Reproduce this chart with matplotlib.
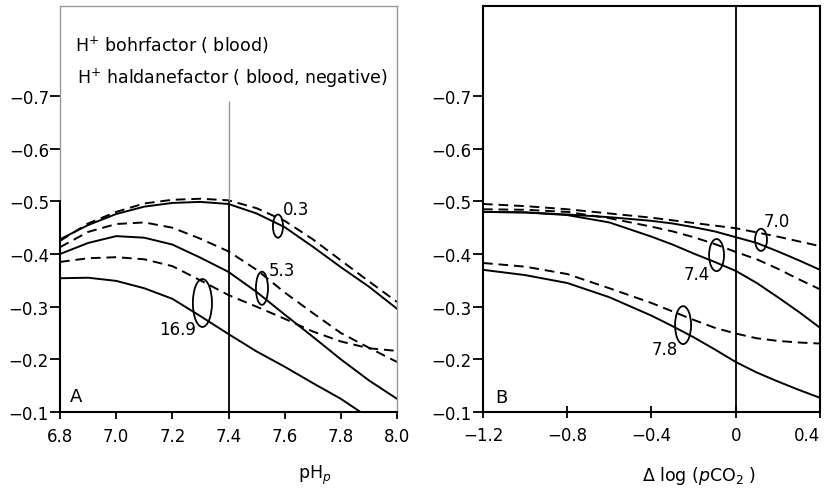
import matplotlib.pyplot as plt
from matplotlib.patches import Ellipse

# --- Data ---

# Panel A: factor vs plasma pH, one solid/dashed pair per pCO2 label
ph_a = [6.8, 6.9, 7.0, 7.1, 7.2, 7.3, 7.4, 7.5, 7.6, 7.7, 7.8, 7.9, 8.0]
ph_a_169 = [6.8, 6.9, 7.0, 7.1, 7.2, 7.3, 7.4, 7.5, 7.6, 7.7, 7.8, 7.87]
bohr_03 = [-0.428, -0.455, -0.476, -0.490, -0.497, -0.499, -0.495, -0.477, -0.451, -0.414, -0.375, -0.338, -0.296]
halda_03 = [-0.425, -0.458, -0.480, -0.496, -0.503, -0.505, -0.502, -0.487, -0.463, -0.428, -0.388, -0.348, -0.309]
bohr_53 = [-0.400, -0.421, -0.434, -0.431, -0.418, -0.393, -0.366, -0.328, -0.285, -0.243, -0.200, -0.160, -0.125]
halda_53 = [-0.413, -0.442, -0.457, -0.460, -0.450, -0.429, -0.405, -0.370, -0.327, -0.288, -0.250, -0.222, -0.195]
bohr_169 = [-0.354, -0.355, -0.349, -0.335, -0.315, -0.282, -0.248, -0.215, -0.186, -0.155, -0.125, -0.100]
halda_169 = [-0.385, -0.392, -0.394, -0.390, -0.377, -0.350, -0.322, -0.300, -0.277, -0.253, -0.234, -0.221, -0.216]

# Panel B: factor vs delta log(pCO2), one pair per pH label
dlog = [-1.2, -1.0, -0.8, -0.6, -0.4, -0.3, -0.2, -0.1, 0.0, 0.1, 0.2, 0.3, 0.4]
bohr_70 = [-0.480, -0.479, -0.475, -0.470, -0.463, -0.458, -0.451, -0.443, -0.432, -0.421, -0.405, -0.388, -0.370]
halda_70 = [-0.495, -0.491, -0.485, -0.477, -0.469, -0.464, -0.459, -0.454, -0.449, -0.441, -0.433, -0.424, -0.415]
bohr_74 = [-0.480, -0.479, -0.474, -0.460, -0.433, -0.418, -0.401, -0.385, -0.368, -0.345, -0.318, -0.290, -0.260]
halda_74 = [-0.485, -0.484, -0.480, -0.468, -0.452, -0.443, -0.432, -0.419, -0.404, -0.390, -0.372, -0.352, -0.333]
bohr_78 = [-0.370, -0.360, -0.345, -0.318, -0.283, -0.263, -0.242, -0.219, -0.195, -0.175, -0.158, -0.142, -0.127]
halda_78 = [-0.383, -0.376, -0.362, -0.335, -0.307, -0.291, -0.275, -0.260, -0.249, -0.240, -0.235, -0.232, -0.230]

y_ticks = [-0.1, -0.2, -0.3, -0.4, -0.5, -0.6, -0.7]
y_labels = ['\u22120.1', '\u22120.2', '\u22120.3', '\u22120.4', '\u22120.5', '\u22120.6', '\u22120.7']
xa_ticks = [6.8, 7.0, 7.2, 7.4, 7.6, 7.8, 8.0]
xa_labels = ['6.8', '7.0', '7.2', '7.4', '7.6', '7.8', '8.0']
xb_ticks = [-1.2, -0.8, -0.4, 0.0, 0.4]
xb_labels = ['\u22121.2', '\u22120.8', '\u22120.4', '0', '0.4']

# --- Style ---
plt.rcParams['font.family'] = 'DejaVu Sans'
LW = 1.4
DASH = (0, (5, 3))
GREY = '0.6'

fig = plt.figure(figsize=(8.28, 4.89), dpi=100)
ax_a = fig.add_axes([0.0725, 0.1554, 0.407, 0.8303])
ax_b = fig.add_axes([0.5833, 0.1554, 0.407, 0.8303])

for ax in (ax_a, ax_b):
    ax.set_ylim(-0.1, -0.871)
    ax.set_yticks(y_ticks)
    ax.set_yticklabels(y_labels)
    ax.tick_params(axis='y', direction='out', length=7, width=1.3, pad=1, labelsize=12)
    ax.tick_params(axis='x', length=5, width=1.3, pad=6, labelsize=12)
    for s in ax.spines.values():
        s.set_linewidth(1.5)

# --- Panel A ---
ax_a.set_xlim(6.8, 8.0)
ax_a.set_xticks(xa_ticks)
ax_a.set_xticklabels(xa_labels)
ax_a.tick_params(axis='x', direction='out')

ax_a.plot(ph_a, bohr_03, color='black', lw=LW)
ax_a.plot(ph_a, halda_03, color='black', lw=LW, linestyle=DASH)
ax_a.plot(ph_a, bohr_53, color='black', lw=LW)
ax_a.plot(ph_a, halda_53, color='black', lw=LW, linestyle=DASH)
ax_a.plot(ph_a_169, bohr_169, color='black', lw=LW)
ax_a.plot(ph_a, halda_169, color='black', lw=LW, linestyle=DASH)

# upper part of panel A looks like a pasted-over label box (grey edges)
ax_a.spines['top'].set_color(GREY)
ax_a.spines['top'].set_linewidth(1.0)
ax_a.spines['right'].set_color(GREY)
ax_a.spines['right'].set_linewidth(1.0)
ax_a.spines['left'].set_bounds(-0.1, -0.5)
ax_a.vlines(6.8, -0.5, -0.871, color=GREY, lw=1.0, clip_on=False)
ax_a.vlines(7.4, -0.1, -0.5, color='black', lw=1.3)
ax_a.vlines(7.4, -0.5, -0.69, color=GREY, lw=1.0)

ax_a.add_patch(Ellipse((7.576, -0.453), 0.036, 0.044, fill=False, lw=1.3))
ax_a.add_patch(Ellipse((7.519, -0.335), 0.043, 0.063, fill=False, lw=1.3))
ax_a.add_patch(Ellipse((7.307, -0.307), 0.068, 0.091, fill=False, lw=1.3))
ax_a.text(7.64, -0.485, '0.3', fontsize=12, ha='center', va='center')
ax_a.text(7.59, -0.370, '5.3', fontsize=12, ha='center', va='center')
ax_a.text(7.22, -0.258, '16.9', fontsize=12, ha='center', va='center')
ax_a.text(6.857, -0.13, 'A', fontsize=13, ha='center', va='center')

ax_a.text(0.045, 0.905, r'H$^{+}$ bohrfactor ( blood)', transform=ax_a.transAxes,
          fontsize=12.5, ha='left', va='center')
ax_a.text(0.05, 0.824, r'H$^{+}$ haldanefactor ( blood, negative)', transform=ax_a.transAxes,
          fontsize=12.5, ha='left', va='center')

ax_a.set_xlabel(r'pH$_{p}$', fontsize=12.5)
ax_a.xaxis.set_label_coords(0.757, -0.125)

# --- Panel B ---
ax_b.set_xlim(-1.2, 0.4)
ax_b.set_xticks(xb_ticks)
ax_b.set_xticklabels(xb_labels)
ax_b.tick_params(axis='x', direction='inout', length=8)
# last tick label sits against the figure edge
ax_b.get_xticklabels()[-1].set_horizontalalignment('right')

ax_b.plot(dlog, bohr_70, color='black', lw=LW)
ax_b.plot(dlog, halda_70, color='black', lw=LW, linestyle=DASH)
ax_b.plot(dlog, bohr_74, color='black', lw=LW)
ax_b.plot(dlog, halda_74, color='black', lw=LW, linestyle=DASH)
ax_b.plot(dlog, bohr_78, color='black', lw=LW)
ax_b.plot(dlog, halda_78, color='black', lw=LW, linestyle=DASH)

ax_b.axvline(0, color='black', lw=1.3)

ax_b.add_patch(Ellipse((0.12, -0.427), 0.057, 0.042, fill=False, lw=1.3))
ax_b.add_patch(Ellipse((-0.091, -0.398), 0.071, 0.061, fill=False, lw=1.3))
ax_b.add_patch(Ellipse((-0.25, -0.265), 0.076, 0.072, fill=False, lw=1.3))
ax_b.text(0.196, -0.463, '7.0', fontsize=12, ha='center', va='center')
ax_b.text(-0.184, -0.362, '7.4', fontsize=12, ha='center', va='center')
ax_b.text(-0.336, -0.220, '7.8', fontsize=12, ha='center', va='center')
ax_b.text(-1.115, -0.128, 'B', fontsize=13, ha='center', va='center')

ax_b.set_xlabel(r'$\Delta$ log ($p$CO$_2$ )', fontsize=12.5)
ax_b.xaxis.set_label_coords(0.64, -0.128)

fig.savefig('out.png', dpi=100)
